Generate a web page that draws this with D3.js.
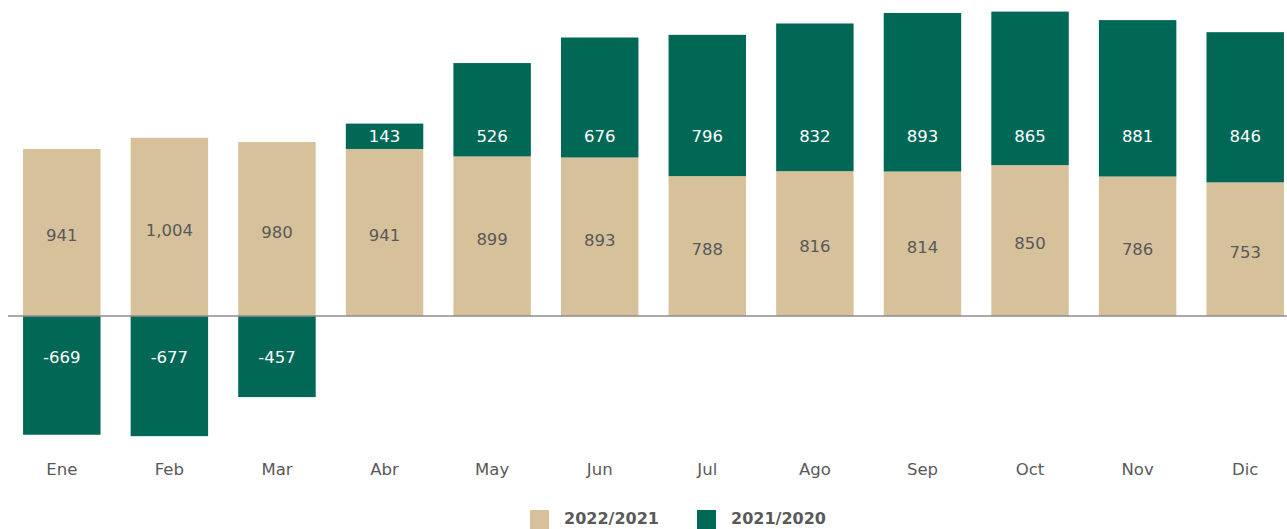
<!DOCTYPE html>
<html>
<head>
    <meta charset="utf-8">
    <title>Mensual 2022/2021 vs 2021/2020</title>
    <script type="text/javascript" src="https://cdn.jsdelivr.net/npm/d3@7"></script>
    <style>
        body { margin: 0; background: #fff; }
        svg text { font-family: "DejaVu Sans", "Open Sans", sans-serif; }
    </style>
</head>
<body>
<script type="text/javascript">

    // datos
    var months = ['Ene','Feb','Mar','Abr','May','Jun','Jul','Ago','Sep','Oct','Nov','Dic'];
    var serie2022 = [941, 1004, 980, 941, 899, 893, 788, 816, 814, 850, 786, 753];
    var serie2021 = [-669, -677, -457, 143, 526, 676, 796, 832, 893, 865, 881, 846];
    var seriesNames = ['2022/2021', '2021/2020'];

    var colBeige = '#d7c19b',
        colGreen = '#006855',
        txtGrey = '#595959';

    var width = 1287,
        height = 529;

    var svg = d3.select('body').append('svg')
        .attr('width', width)
        .attr('height', height);

    var x = d3.scaleBand()
        .domain(months)
        .range([8, 1299])
        .paddingInner(0.28)
        .paddingOuter(0.14);

    var y = d3.scaleLinear()
        .domain([-700, 1780])
        .range([316 + 700 * 0.1775, 316 - 1780 * 0.1775]);

    // fixed label heights (the labels don't follow the segments)
    var greenLabelVal = 1014,
        negLabelVal = -231;

    var rows = months.map(function(m, i){
        return {m: m, a: serie2022[i], b: serie2021[i]};
    });

    var g = svg.append('g');

    // beige
    g.selectAll('rect.a')
        .data(rows)
        .enter().append('rect')
        .attr('class', 'a')
        .attr('x', d => x(d.m))
        .attr('width', x.bandwidth())
        .attr('y', d => y(d.a))
        .attr('height', d => y(0) - y(d.a))
        .attr('fill', colBeige);

    // green, stacked on top or hanging below zero
    g.selectAll('rect.b')
        .data(rows)
        .enter().append('rect')
        .attr('class', 'b')
        .attr('x', d => x(d.m))
        .attr('width', x.bandwidth())
        .attr('y', d => d.b >= 0 ? y(d.a + d.b) : y(0))
        .attr('height', d => d.b >= 0 ? y(d.a) - y(d.a + d.b) : y(d.b) - y(0))
        .attr('fill', colGreen);

    // zero line
    svg.append('line')
        .attr('x1', 8).attr('x2', width)
        .attr('y1', y(0)).attr('y2', y(0))
        .attr('stroke', '#8c8c8c')
        .attr('stroke-width', 1.3);

    // hyphen instead of unicode minus, like the original
    var fmt = v => d3.format(',')(v).replace('\u2212', '-');

    g.selectAll('text.a')
        .data(rows)
        .enter().append('text')
        .attr('class', 'a')
        .attr('x', d => x(d.m) + x.bandwidth() / 2)
        .attr('y', d => y(d.a / 2) + 3)
        .attr('dy', '0.35em')
        .attr('text-anchor', 'middle')
        .attr('font-size', 16.5)
        .attr('fill', txtGrey)
        .text(d => fmt(d.a));

    g.selectAll('text.b')
        .data(rows)
        .enter().append('text')
        .attr('class', 'b')
        .attr('x', d => x(d.m) + x.bandwidth() / 2)
        .attr('y', d => d.b >= 0 ? y(Math.min(greenLabelVal, d.a + d.b / 2)) : y(negLabelVal))
        .attr('dy', '0.35em')
        .attr('text-anchor', 'middle')
        .attr('font-size', 16.5)
        .attr('fill', '#fff')
        .text(d => fmt(d.b));

    // month axis
    var axisX = d3.axisBottom(x).tickSize(0).tickPadding(0);
    var axisGroupX = svg.append('g')
        .attr('transform', 'translate(0,' + 469 + ')')
        .call(axisX);
    axisGroupX.select('.domain').remove();
    axisGroupX.selectAll('text')
        .attr('dy', '0.35em')
        .attr('font-size', 16.5)
        .attr('fill', txtGrey)
        .style('font-family', '"DejaVu Sans", "Open Sans", sans-serif');

    // legend
    var legend = svg.append('g');
    var legX = [530, 697];
    var legCols = [colBeige, colGreen];
    seriesNames.forEach(function(n, i){
        legend.append('rect')
            .attr('x', legX[i]).attr('y', 510)
            .attr('width', 19).attr('height', 19)
            .attr('fill', legCols[i]);
        legend.append('text')
            .attr('x', legX[i] + 34).attr('y', 518)
            .attr('dy', '0.35em')
            .attr('font-size', 16)
            .attr('font-weight', 'bold')
            .attr('fill', txtGrey)
            .text(n);
    });

</script>
</body>
</html>
